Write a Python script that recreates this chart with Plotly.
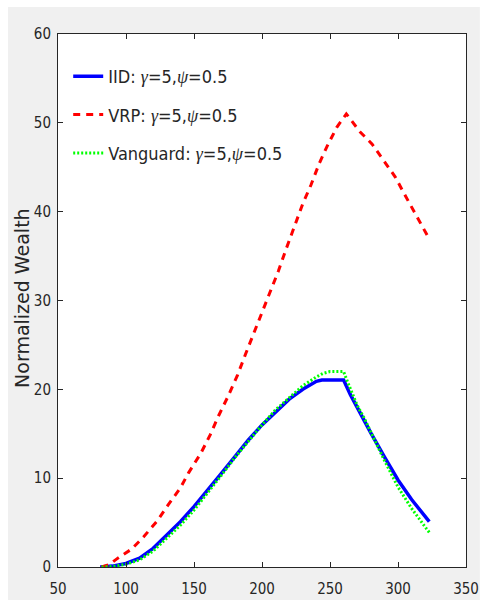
import plotly.graph_objects as go

# ---- data ----
iid_x = [81, 90, 100, 110, 120, 130, 140, 150, 160, 170, 180, 190, 200, 210, 220, 230, 235, 240, 244, 252, 260, 265, 270, 275, 280, 290, 300, 310, 320, 323]
iid_y = [0.0, 0.1, 0.4, 1.0, 2.1, 3.6, 5.1, 6.8, 8.6, 10.5, 12.4, 14.3, 16.0, 17.5, 18.9, 20.0, 20.5, 20.9, 21.05, 21.05, 21.05, 19.4, 17.9, 16.5, 15.1, 12.4, 9.8, 7.6, 5.7, 5.1]

vrp_x = [82, 88, 94, 104, 113, 123, 131, 140, 146, 155, 162, 168, 175, 182, 188, 194, 201, 212, 218, 224, 230, 236, 242, 248, 255, 262, 272, 281, 289, 298, 305, 313, 322]
vrp_y = [0.0, 0.3, 1.0, 2.0, 3.4, 5.2, 7.0, 8.9, 10.6, 12.8, 14.9, 17.0, 19.2, 21.6, 24.0, 26.3, 28.9, 33.3, 35.9, 38.5, 40.9, 43.0, 45.4, 47.4, 49.5, 51.0, 49.0, 47.6, 45.8, 43.9, 41.9, 39.7, 37.2]

vg_x = [82, 90, 100, 110, 120, 130, 140, 150, 160, 170, 180, 190, 200, 210, 220, 230, 240, 245, 250, 255, 260, 263, 270, 275, 280, 290, 300, 310, 320, 323]
vg_y = [0.0, 0.05, 0.3, 0.8, 1.8, 3.2, 4.7, 6.4, 8.3, 10.3, 12.3, 14.2, 16.0, 17.7, 19.1, 20.4, 21.4, 21.8, 22.0, 22.0, 22.0, 20.8, 18.2, 16.8, 15.2, 12.0, 9.0, 6.6, 4.5, 3.9]

x_ticks = [50, 100, 150, 200, 250, 300, 350]
y_ticks = [0, 10, 20, 30, 40, 50, 60]
y_title = "Normalized Wealth"

GR = '<span style="font-family:Liberation Serif, Times New Roman, serif"><i>%s</i></span>'
names = [
    "IID: " + GR % "γ" + "=5," + GR % "ψ" + "=0.5",
    "VRP: " + GR % "γ" + "=5," + GR % "ψ" + "=0.5",
    "Vanguard: " + GR % "γ" + "=5," + GR % "ψ" + "=0.5",
]

NARROW = "Liberation Sans Narrow, Arial Narrow, DejaVu Sans Condensed, Liberation Sans, sans-serif"
TXT = "#262626"

fig = go.Figure()
fig.add_trace(go.Scatter(x=iid_x, y=iid_y, mode="lines", name=names[0], legendgroup="a",
                         line=dict(color="#0000ff", width=3.5)))
fig.add_trace(go.Scatter(x=vrp_x, y=vrp_y, mode="lines", name=names[1], legendgroup="b",
                         line=dict(color="#ff0000", width=3, dash="7px,6px")))
fig.add_trace(go.Scatter(x=vg_x, y=vg_y, mode="lines", name=names[2], legendgroup="c",
                         line=dict(color="#00ff00", width=3, dash="2px,2px")))

axis_common = dict(showline=True, linecolor=TXT, linewidth=1, mirror="ticks", ticks="inside",
                   ticklen=5, tickcolor=TXT, showgrid=False, zeroline=False, automargin=False,
                   tickfont=dict(family=NARROW, size=15, color=TXT))

fig.update_xaxes(range=[50, 350], tickvals=x_ticks, ticklabelstandoff=8, **axis_common)
fig.update_yaxes(range=[0, 60], tickvals=y_ticks, ticklabelstandoff=3, **axis_common)

fig.add_annotation(text=y_title, textangle=-90, xref="paper", yref="paper",
                   x=-0.088, y=0.505, xanchor="center", yanchor="middle", showarrow=False,
                   font=dict(family="DejaVu Sans, sans-serif", size=19, color=TXT))

fig.update_layout(
    width=493, height=602,
    margin=dict(l=58, r=27, t=34, b=35),
    paper_bgcolor="white", plot_bgcolor="white",
    showlegend=True,
    legend=dict(x=0.025, y=0.955, xanchor="left", yanchor="top", bgcolor="rgba(0,0,0,0)",
                borderwidth=0, font=dict(family=NARROW, size=18, color=TXT),
                tracegroupgap=12, itemwidth=30),
    shapes=[
        dict(type="rect", xref="paper", yref="paper", x0=-0.1225, x1=1.034, y0=-0.062, y1=1.0507,
             fillcolor="#f0f0f0", line=dict(width=0), layer="below"),
        dict(type="rect", xref="paper", yref="paper", x0=0, x1=1, y0=0, y1=1,
             fillcolor="white", line=dict(width=0), layer="below"),
    ],
)

fig.write_html("out.html")
